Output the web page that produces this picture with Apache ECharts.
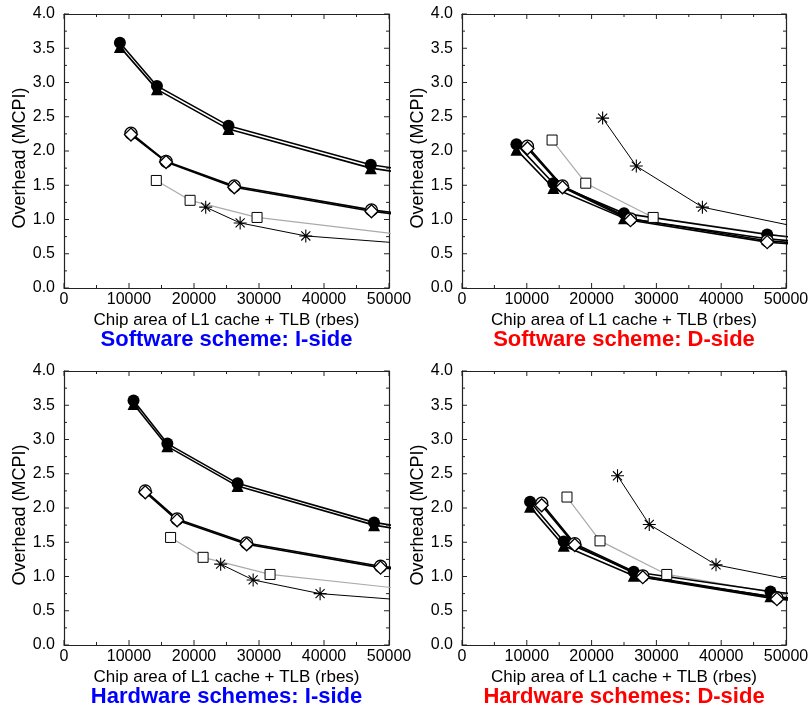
<!DOCTYPE html>
<html>
<head>
<meta charset="utf-8">
<script src="https://cdn.jsdelivr.net/npm/echarts@6/dist/echarts.min.js"></script>
<style>
  html, body { margin: 0; padding: 0; background: #fff; }
  #chart { width: 812px; height: 709px; }
</style>
</head>
<body>
<div id="chart"></div>
<script>
// Overhead (MCPI) vs. chip area of L1 cache + TLB, four configurations.
// Each configuration: [area in rbes, overhead]. The last point of most curves
// lies past 50000 rbes and only shows as the line running off the plot edge.

var panelTitles = [
  'Software scheme: I-side',
  'Software scheme: D-side',
  'Hardware schemes: I-side',
  'Hardware schemes: D-side'
];
var titleColors = ['#0000ff', '#ff0000', '#0000ff', '#ff0000'];
var xTicks = [0, 10000, 20000, 30000, 40000, 50000];
var yTicks = [0.0, 0.5, 1.0, 1.5, 2.0, 2.5, 3.0, 3.5, 4.0];

// Software scheme, I-side
var swI_filledCircle = [[8600, 3.58], [14300, 2.95], [25300, 2.37], [47200, 1.80], [90000, 1.20]];
var swI_filledTriangle = [[8600, 3.52], [14300, 2.90], [25300, 2.32], [47200, 1.75], [90000, 1.15]];
var swI_openCircle = [[10300, 2.26], [15700, 1.85], [26200, 1.49], [47300, 1.14], [90000, 0.66]];
var swI_openDiamond = [[10300, 2.24], [15700, 1.84], [26200, 1.47], [47300, 1.12], [90000, 0.64]];
var swI_square = [[14200, 1.57], [19400, 1.28], [29700, 1.03], [58000, 0.71]];
var swI_star = [[21800, 1.18], [27100, 0.95], [37200, 0.76], [58000, 0.61]];

// Software scheme, D-side
var swD_filledCircle = [[8400, 2.10], [14100, 1.53], [25000, 1.09], [47100, 0.78], [90000, 0.36]];
var swD_filledTriangle = [[8400, 2.02], [14100, 1.46], [25000, 1.02], [47100, 0.72], [90000, 0.34]];
var swD_openCircle = [[10100, 2.07], [15500, 1.49], [26000, 1.01], [47100, 0.69], [90000, 0.36]];
var swD_openDiamond = [[10100, 2.04], [15500, 1.47], [26000, 0.99], [47100, 0.67], [90000, 0.34]];
var swD_square = [[13900, 2.16], [19100, 1.53], [29500, 1.03], [58000, 0.64]];
var swD_star = [[21700, 2.48], [26900, 1.78], [37100, 1.18], [58000, 0.77]];

// Hardware schemes, I-side
var hwI_filledCircle = [[10700, 3.57], [15900, 2.94], [26700, 2.36], [47700, 1.79], [90000, 1.15]];
var hwI_filledTriangle = [[10700, 3.52], [15900, 2.90], [26700, 2.32], [47700, 1.75], [90000, 1.11]];
var hwI_openCircle = [[12500, 2.25], [17400, 1.84], [28100, 1.49], [48700, 1.15], [90000, 0.70]];
var hwI_openDiamond = [[12500, 2.23], [17400, 1.82], [28100, 1.47], [48700, 1.13], [90000, 0.68]];
var hwI_square = [[16400, 1.57], [21400, 1.28], [31700, 1.03], [60000, 0.74]];
var hwI_star = [[24100, 1.18], [29100, 0.95], [39400, 0.75], [60000, 0.60]];

// Hardware schemes, D-side
var hwD_filledCircle = [[10500, 2.09], [15700, 1.51], [26500, 1.07], [47600, 0.78], [90000, 0.40]];
var hwD_filledTriangle = [[10500, 2.02], [15700, 1.45], [26500, 1.01], [47600, 0.71], [90000, 0.36]];
var hwD_openCircle = [[12300, 2.07], [17400, 1.48], [27900, 1.01], [48600, 0.69], [90000, 0.36]];
var hwD_openDiamond = [[12300, 2.04], [17400, 1.46], [27900, 0.99], [48600, 0.67], [90000, 0.34]];
var hwD_square = [[16200, 2.16], [21300, 1.52], [31600, 1.03], [60000, 0.57]];
var hwD_star = [[24000, 2.47], [28900, 1.76], [39200, 1.17], [60000, 0.78]];

var panels = [
  [swI_square, swI_star, swI_filledTriangle, swI_filledCircle, swI_openCircle, swI_openDiamond],
  [swD_square, swD_star, swD_filledTriangle, swD_filledCircle, swD_openCircle, swD_openDiamond],
  [hwI_square, hwI_star, hwI_filledTriangle, hwI_filledCircle, hwI_openCircle, hwI_openDiamond],
  [hwD_square, hwD_star, hwD_filledTriangle, hwD_filledCircle, hwD_openCircle, hwD_openDiamond]
];

var FONT = '"Liberation Sans", Arial, Helvetica, sans-serif';
var STAR = 'path://M0,-10L0,10M-10,0L10,0M-7,-7L7,7M-7,7L7,-7';
var AXIS_COLOR = '#222';
var MAJOR_LEN = 5, MINOR_LEN = 3;

// Marker / line styles, in the same order as the panel arrays above
var styles = [
  { symbol: 'rect', size: 10, fill: '#fff', stroke: '#000', line: '#aaaaaa', lw: 1.2, bw: 1 },
  { symbol: STAR, size: 13, fill: 'none', stroke: '#000', line: '#000', lw: 1, bw: 1.1 },
  { symbol: 'triangle', size: 12, fill: '#000', stroke: '#000', line: '#000', lw: 1.6, bw: 0 },
  { symbol: 'circle', size: 12, fill: '#000', stroke: '#000', line: '#000', lw: 1.6, bw: 0 },
  { symbol: 'circle', size: 12, fill: '#fff', stroke: '#000', line: '#000', lw: 1.6, bw: 1.3 },
  { symbol: 'diamond', size: 13, fill: '#fff', stroke: '#000', line: '#000', lw: 1.6, bw: 1.3 }
];

var plotRects = [
  { left: 64, top: 14, width: 325, height: 274 },
  { left: 462, top: 14, width: 324, height: 274 },
  { left: 64, top: 371, width: 325, height: 274 },
  { left: 462, top: 371, width: 324, height: 274 }
];

// Tick positions for the inward ticks on all four sides: major ticks plus one
// minor tick halfway between neighbours. Each entry: [value, tick length].
function tickMarks(ticks) {
  var out = [];
  ticks.forEach(function (t, i) {
    out.push([t, MAJOR_LEN]);
    if (i < ticks.length - 1) out.push([(t + ticks[i + 1]) / 2, MINOR_LEN]);
  });
  return out;
}
var xTickMarks = tickMarks(xTicks);
var yTickMarks = tickMarks(yTicks);

function tickSeries(dim, xIdx, yIdx) {
  return {
    type: 'custom',
    xAxisIndex: xIdx,
    yAxisIndex: yIdx,
    coordinateSystem: 'cartesian2d',
    data: dim === 'x' ? xTickMarks : yTickMarks,
    encode: dim === 'x' ? { x: 0 } : { y: 0 },
    silent: true,
    animation: false,
    clip: false,
    z: 5,
    renderItem: function (params, api) {
      var cs = params.coordSys;
      var v = api.value(0), len = api.value(1);
      var style = { stroke: AXIS_COLOR, lineWidth: 1 };
      if (dim === 'x') {
        var px = api.coord([v, yTicks[0]])[0];
        return { type: 'group', children: [
          { type: 'line', shape: { x1: px, y1: cs.y + cs.height, x2: px, y2: cs.y + cs.height - len }, style: style },
          { type: 'line', shape: { x1: px, y1: cs.y, x2: px, y2: cs.y + len }, style: style }
        ] };
      }
      var py = api.coord([xTicks[0], v])[1];
      return { type: 'group', children: [
        { type: 'line', shape: { x1: cs.x, y1: py, x2: cs.x + len, y2: py }, style: style },
        { type: 'line', shape: { x1: cs.x + cs.width, y1: py, x2: cs.x + cs.width - len, y2: py }, style: style }
      ] };
    }
  };
}

var grids = [], xAxes = [], yAxes = [], series = [], graphics = [];

function frameAxis(dim, gridIndex, position, main) {
  var isX = dim === 'x';
  var ticks = isX ? xTicks : yTicks;
  return {
    gridIndex: gridIndex,
    type: 'value',
    position: position,
    min: ticks[0],
    max: ticks[ticks.length - 1],
    interval: ticks[1] - ticks[0],
    axisLine: { show: true, onZero: false, lineStyle: { color: AXIS_COLOR, width: 1.2 } },
    axisTick: { show: false },
    minorTick: { show: false },
    splitLine: { show: false },
    axisLabel: {
      show: main, color: '#000', fontFamily: FONT, fontSize: 16,
      margin: isX ? 4 : 9,
      showMinLabel: true, showMaxLabel: true,
      formatter: isX ? function (v) { return String(v); } : function (v) { return v.toFixed(1); }
    },
    name: main ? (isX ? 'Chip area of L1 cache + TLB (rbes)' : 'Overhead (MCPI)') : '',
    nameLocation: 'middle',
    nameGap: isX ? 24 : 34,
    nameTextStyle: {
      color: '#000', fontFamily: FONT, fontSize: isX ? 17 : 18,
      padding: isX ? 0 : [0, 14, 0, 0]
    }
  };
}

plotRects.forEach(function (r, p) {
  var g = grids.length;
  grids.push({ left: r.left, top: r.top, width: r.width, height: r.height });

  var mainX = xAxes.length;
  xAxes.push(frameAxis('x', g, 'bottom', true));
  xAxes.push(frameAxis('x', g, 'top', false));
  var mainY = yAxes.length;
  yAxes.push(frameAxis('y', g, 'left', true));
  yAxes.push(frameAxis('y', g, 'right', false));

  panels[p].forEach(function (data, k) {
    var s = styles[k];
    series.push({
      type: 'line',
      xAxisIndex: mainX,
      yAxisIndex: mainY,
      data: data,
      clip: true,
      symbol: s.symbol,
      symbolSize: s.size,
      showAllSymbol: true,
      animation: false,
      lineStyle: { color: s.line, width: s.lw },
      itemStyle: {
        color: s.fill === 'none' ? 'rgba(0,0,0,0)' : s.fill,
        borderColor: s.stroke,
        borderWidth: s.bw
      },
      emphasis: { disabled: true }
    });
  });
  series.push(tickSeries('x', mainX, mainY));
  series.push(tickSeries('y', mainX, mainY));

  graphics.push({
    type: 'text',
    x: r.left + r.width / 2,
    y: r.top + r.height + 52,
    style: {
      text: panelTitles[p],
      fill: titleColors[p],
      font: 'bold 22px ' + FONT,
      textAlign: 'center',
      textVerticalAlign: 'middle'
    }
  });
});

var chart = echarts.init(document.getElementById('chart'), null, { renderer: 'canvas' });
chart.setOption({
  backgroundColor: '#fff',
  animation: false,
  grid: grids,
  xAxis: xAxes,
  yAxis: yAxes,
  series: series,
  graphic: graphics
});
</script>
</body>
</html>
